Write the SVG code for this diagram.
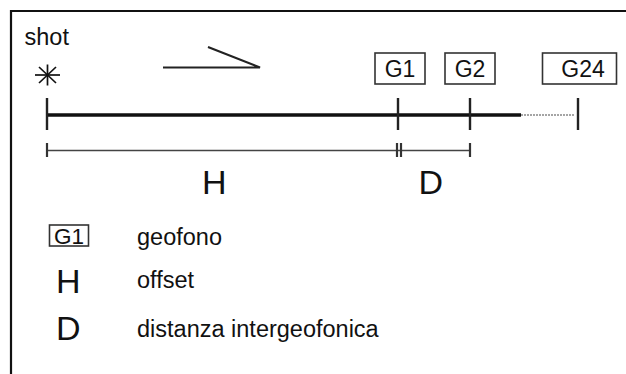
<svg xmlns="http://www.w3.org/2000/svg" width="626" height="374" viewBox="0 0 626 374">
<style>
text{font-family:"Liberation Sans",Arial,sans-serif;fill:#111}
.t{font-size:23.5px}
.g{font-size:23px}
.big{font-size:34px}
.box{fill:#fff;stroke:#333;stroke-width:1.6}
.tick{stroke:#222;stroke-width:2.4}
.dim{stroke:#444;stroke-width:1.7;fill:none}
.dtick{stroke:#333;stroke-width:2.2}
</style>
<rect width="626" height="374" fill="#fff"/>
<path d="M11,374 V11 H626" fill="none" stroke="#111" stroke-width="2.2"/>
<g id="shot">
<text class="t" x="24.5" y="45">shot</text>
<g stroke="#111" stroke-width="1.7">
<line x1="35" y1="75" x2="60" y2="75"/>
<line x1="47.5" y1="64.5" x2="47.5" y2="85.5"/>
<line x1="39" y1="67" x2="56" y2="83"/>
<line x1="39" y1="83" x2="56" y2="67"/>
</g>
</g>
<g id="direction">
<path d="M163,67.5 H260 L208,47" fill="none" stroke="#222" stroke-width="2.2"/>
</g>
<g id="G1">
<rect class="box" x="375" y="53" width="50" height="31"/>
<text class="g" x="400" y="77" text-anchor="middle">G1</text>
</g>
<g id="G2">
<rect class="box" x="445" y="53" width="50" height="31"/>
<text class="g" x="470" y="77" text-anchor="middle">G2</text>
</g>
<g id="G24">
<rect class="box" x="542.5" y="53" width="74" height="31"/>
<text class="g" x="583" y="77" text-anchor="middle">G24</text>
</g>
<g id="connectors">
<line x1="47" y1="115" x2="521" y2="115" stroke="#111" stroke-width="3.4"/>
<line x1="521" y1="115" x2="575" y2="115" stroke="#888" stroke-width="1.7" stroke-dasharray="2,1"/>
<line class="tick" x1="47" y1="98" x2="47" y2="130"/>
<line class="tick" x1="398" y1="98" x2="398" y2="130"/>
<line class="tick" x1="470" y1="98" x2="470" y2="130"/>
<line class="tick" x1="578" y1="98" x2="578" y2="130"/>
<line class="dim" x1="47" y1="150.5" x2="470" y2="150.5"/>
<line class="dtick" x1="47" y1="143" x2="47" y2="157"/>
<line class="dtick" x1="397" y1="143" x2="397" y2="157"/>
<line class="dtick" x1="401" y1="143" x2="401" y2="157"/>
<line class="dtick" x1="470" y1="143" x2="470" y2="157"/>
</g>
<g id="H">
<text class="big" x="202" y="193.5">H</text>
</g>
<g id="D">
<text class="big" x="418.5" y="193.5">D</text>
</g>
<g id="legend">
<rect class="box" x="49.5" y="225" width="39" height="21"/>
<text x="69" y="243.5" text-anchor="middle" style="font-size:22.5px">G1</text>
<text class="t" x="137" y="245">geofono</text>
<text class="big" x="56" y="293">H</text>
<text class="t" x="137" y="288">offset</text>
<text class="big" x="56" y="340">D</text>
<text class="t" x="137" y="337">distanza intergeofonica</text>
</g>
</svg>
